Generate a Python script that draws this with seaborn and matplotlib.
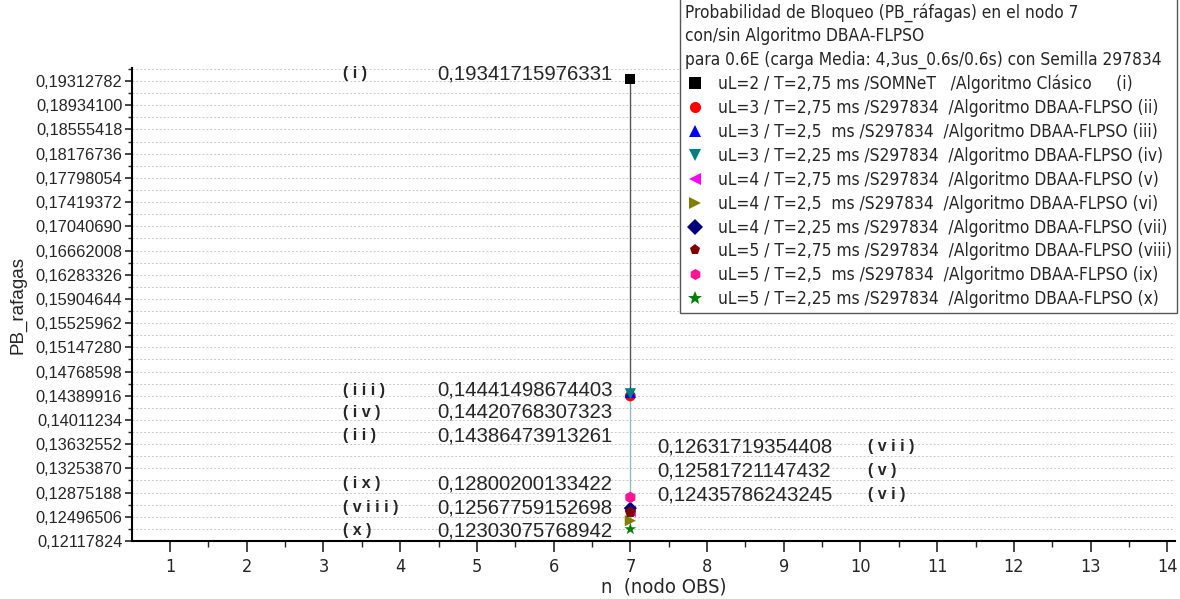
import numpy as np
import pandas as pd
import matplotlib
matplotlib.use("Agg")
import matplotlib.pyplot as plt
from matplotlib import font_manager as fm
from matplotlib.ticker import FixedLocator, FuncFormatter, MultipleLocator
import seaborn as sns

# ---- data -------------------------------------------------------------
node = 7
series_ids = ["i", "ii", "iii", "iv", "v", "vi", "vii", "viii", "ix", "x"]
pb_values = [0.19341715976331, 0.14386473913261, 0.14441498674403,
             0.14420768307323, 0.12581721147432, 0.12435786243245,
             0.12631719354408, 0.12567759152698, 0.12800200133422,
             0.12303075768942]
legend_labels = [
    "uL=2 / T=2,75 ms /SOMNeT   /Algoritmo Clásico     (i)",
    "uL=3 / T=2,75 ms /S297834  /Algoritmo DBAA-FLPSO (ii)",
    "uL=3 / T=2,5  ms /S297834  /Algoritmo DBAA-FLPSO (iii)",
    "uL=3 / T=2,25 ms /S297834  /Algoritmo DBAA-FLPSO (iv)",
    "uL=4 / T=2,75 ms /S297834  /Algoritmo DBAA-FLPSO (v)",
    "uL=4 / T=2,5  ms /S297834  /Algoritmo DBAA-FLPSO (vi)",
    "uL=4 / T=2,25 ms /S297834  /Algoritmo DBAA-FLPSO (vii)",
    "uL=5 / T=2,75 ms /S297834  /Algoritmo DBAA-FLPSO (viii)",
    "uL=5 / T=2,5  ms /S297834  /Algoritmo DBAA-FLPSO (ix)",
    "uL=5 / T=2,25 ms /S297834  /Algoritmo DBAA-FLPSO (x)",
]
legend_title = ("Probabilidad de Bloqueo (PB_ráfagas) en el nodo 7\n"
                "con/sin Algoritmo DBAA-FLPSO\n"
                "para 0.6E (carga Media: 4,3us_0.6s/0.6s) con Semilla 297834")
y_ticks = [0.12117824, 0.12496506, 0.12875188, 0.13253870, 0.13632552,
           0.14011234, 0.14389916, 0.14768598, 0.15147280, 0.15525962,
           0.15904644, 0.16283326, 0.16662008, 0.17040690, 0.17419372,
           0.17798054, 0.18176736, 0.18555418, 0.18934100, 0.19312782]
x_ticks = list(range(1, 15))

# annotation groups: left column and right column
left_ids = ["i", "iii", "iv", "ii", "ix", "viii", "x"]
right_ids = ["vii", "v", "vi"]

# ---- style ------------------------------------------------------------
colors = ["#000000", "#ff0000", "#0000ff", "#008080", "#ff00ff",
          "#808000", "#000080", "#800000", "#ff1493", "#008000"]
markers = ["s", "o", "^", "v", "<", ">", "D", "p", "h", "*"]
sizes = [55, 60, 65, 65, 65, 65, 45, 70, 70, 80]

sns.set_theme(style="white")
plt.rcParams["font.family"] = ["Liberation Sans", "DejaVu Sans"]


def narrow_font(size):
    """Return a condensed sans face if one is installed, else Liberation Sans."""
    keys = ("narrow", "condensed")
    for f in fm.fontManager.ttflist:
        fname = f.fname.lower()
        if any(k in fname for k in keys) and f.style == "normal" \
                and f.weight in (400, "normal", "regular") \
                and "mono" not in fname and "serif" not in f.name.lower():
            return fm.FontProperties(fname=f.fname, size=size)
    return fm.FontProperties(family="Liberation Sans", size=size)


df = pd.DataFrame({"n": [node] * len(pb_values), "pb": pb_values,
                   "serie": legend_labels})

fig = plt.figure(figsize=(11.8, 5.99), dpi=100)
ax = fig.add_axes([0.1119, 0.0968, 0.8839, 0.7897])

# connecting line through the node-7 values
order = np.argsort(pb_values)[::-1]
ax.plot([node, node], [pb_values[order[0]], pb_values[order[1]]],
        color="#555555", lw=1.0, zorder=2)
ax.plot([node, node], [pb_values[order[1]], min(pb_values)],
        color="#8fbcbc", lw=1.0, zorder=2)

sns.scatterplot(data=df, x="n", y="pb", hue="serie", style="serie",
                palette=dict(zip(legend_labels, colors)),
                markers=dict(zip(legend_labels, markers)),
                size="serie", sizes=dict(zip(legend_labels, sizes)),
                edgecolor="none", linewidth=0, ax=ax, zorder=3, legend=False)

# axes limits and ticks
step = y_ticks[1] - y_ticks[0]
ax.set_xlim(0.505, 14.1)
ax.set_ylim(y_ticks[0], y_ticks[-1] + 0.54 * step)
ax.yaxis.set_major_locator(FixedLocator(y_ticks))
ax.yaxis.set_minor_locator(FixedLocator([t + step / 2 for t in y_ticks]))
ax.yaxis.set_major_formatter(FuncFormatter(lambda v, p: f"{v:.8f}".replace(".", ",")))
ax.xaxis.set_major_locator(FixedLocator(x_ticks))
ax.xaxis.set_minor_locator(MultipleLocator(0.5))
ax.tick_params(axis="y", which="major", direction="out", length=5, width=1.2,
               labelsize=11.8, pad=2, left=True)
ax.tick_params(axis="y", which="minor", direction="out", length=3, width=1.0, left=True)
ax.tick_params(axis="x", which="major", direction="out", length=8, width=1.2,
               pad=4, bottom=True)
ax.tick_params(axis="x", which="minor", direction="out", length=4, width=1.0, bottom=True)
for lbl in ax.get_xticklabels():
    lbl.set_fontproperties(narrow_font(13))
ax.grid(True, axis="y", which="both", color="#c8c8c8", ls=(0, (2, 2)), lw=0.7)
ax.grid(False, axis="x")
for side in ("top", "right"):
    ax.spines[side].set_visible(False)
for side in ("left", "bottom"):
    ax.spines[side].set_color("black")
    ax.spines[side].set_linewidth(1.5)

ax.set_xlabel("n  (nodo OBS)", fontproperties=narrow_font(14.5))
ax.xaxis.set_label_coords(0.51, -0.078)
ax.set_ylabel("PB_rafagas", fontsize=13.5, labelpad=6)

# value annotations
fmt = lambda v: f"{v:.14f}".replace(".", ",")
spaced = lambda s: " ".join(f"({s})")
lookup = dict(zip(series_ids, pb_values))
left_rows = [0.19424, 0.14475, 0.14129, 0.13768, 0.13014, 0.12636, 0.12275]
for sid, yy in zip(left_ids, left_rows):
    ax.text(3.255, yy, spaced(sid), fontsize=11.5, fontweight="bold",
            va="center", ha="left")
    ax.text(4.48, yy, fmt(lookup[sid]), fontsize=14.7, va="center", ha="left")
right_rows = [0.13595, 0.13218, 0.12841]
for sid, yy in zip(right_ids, right_rows):
    ax.text(7.35, yy, fmt(lookup[sid]), fontsize=14.7, va="center", ha="left")
    ax.text(10.1, yy, spaced(sid), fontsize=11.5, fontweight="bold",
            va="center", ha="left")

# legend
handles = [plt.Line2D([], [], ls="none", marker=m, color=c,
                      markersize=8 if m != "*" else 10, markeredgewidth=0)
           for m, c in zip(markers, colors)]
leg = fig.legend(handles, legend_labels, title=legend_title,
                 loc="upper right", bbox_to_anchor=(0.9975, 1.003),
                 frameon=True, fancybox=False, framealpha=1,
                 edgecolor="#555555", prop=narrow_font(12.4),
                 title_fontproperties=narrow_font(12.4),
                 labelspacing=0.34, handletextpad=0.7, handlelength=1.2,
                 borderpad=0.3, borderaxespad=0.0)
leg._legend_box.align = "left"
leg.get_title().set_linespacing(1.38)
leg.get_frame().set_linewidth(1.0)

fig.savefig("out.png", dpi=100)
